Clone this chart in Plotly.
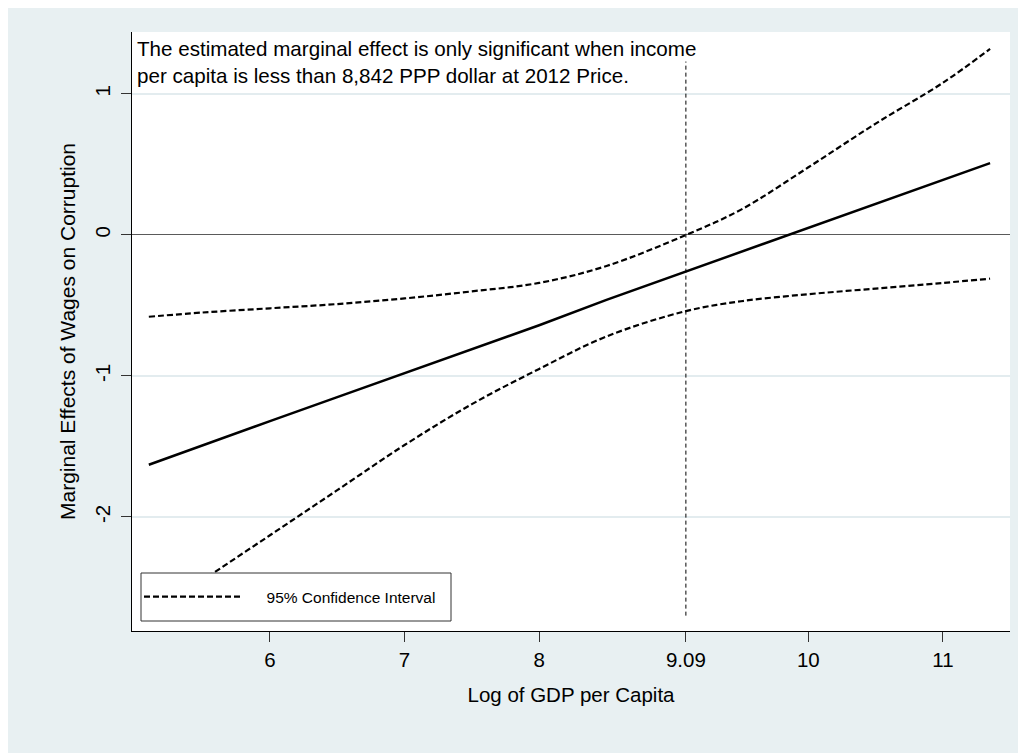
import plotly.graph_objects as go

# ---- data ----
log_gdp = [5.1, 5.5, 6.0, 6.5, 7.0, 7.5, 8.0, 8.5, 9.09, 9.5, 10.0, 10.5, 11.0, 11.35]
marginal_effect = [-1.63, -1.49, -1.32, -1.15, -0.98, -0.81, -0.64, -0.46, -0.26, -0.12, 0.05, 0.22, 0.39, 0.51]
ci_upper = [-0.58, -0.55, -0.52, -0.49, -0.45, -0.40, -0.34, -0.22, 0.00, 0.18, 0.48, 0.79, 1.08, 1.32]
ci_lower = [-2.72, -2.45, -2.13, -1.81, -1.49, -1.20, -0.95, -0.72, -0.54, -0.47, -0.42, -0.38, -0.34, -0.31]
x_ticks = [6, 7, 8, 9.09, 10, 11]
x_tick_labels = ["6", "7", "8", "9.09", "10", "11"]
y_ticks = [-2, -1, 0, 1]
y_tick_labels = ["-2", "-1", "0", "1"]
threshold = [9.09, 9.09]
threshold_span = [-2.70, 1.23]

FONT = "Liberation Sans, Arial, Helvetica, sans-serif"
BG = "#E8F0F2"
W, H = 1026, 753
OFF = 8  # page body margin
ML, MR, MT, MB = 124, 24, 24, 130
PW, PH = W - ML - MR, H - MT - MB


def px_x(p):
    return (p - OFF - ML) / PW


def px_y(p):
    return (H - MB - (p - OFF)) / PH


fig = go.Figure()

fig.add_trace(go.Scatter(
    x=threshold, y=threshold_span, mode="lines", showlegend=False,
    line=dict(color="black", width=1, dash="4px,3px"), hoverinfo="skip"))

fig.add_trace(go.Scatter(
    x=log_gdp, y=ci_upper, mode="lines", name="\u00a0\u00a0\u00a0\u00a0\u00a095% Confidence Interval",
    legendgroup="ci", line=dict(color="black", width=2.2, dash="6px,3px", shape="spline")))
fig.add_trace(go.Scatter(
    x=log_gdp, y=ci_lower, mode="lines", name="95% Confidence Interval",
    legendgroup="ci", showlegend=False,
    line=dict(color="black", width=2.2, dash="6px,3px", shape="spline")))
fig.add_trace(go.Scatter(
    x=log_gdp, y=marginal_effect, mode="lines", name="Marginal effect",
    showlegend=False, line=dict(color="black", width=2.5)))

shapes = [
    # legend box
    dict(type="rect", xref="paper", yref="paper", x0=px_x(141), x1=px_x(451), y0=px_y(621), y1=px_y(573),
         fillcolor="white", line=dict(color="#333333", width=1), layer="above"),
]

fig.update_layout(
    width=W, height=H,
    margin=dict(l=ML, r=MR, t=MT, b=MB, autoexpand=False),
    paper_bgcolor=BG, plot_bgcolor="white",
    font=dict(family=FONT, color="black", size=20.5),
    shapes=shapes,
    showlegend=True,
    legend=dict(x=px_x(139), y=px_y(597), xanchor="left", yanchor="middle",
                bgcolor="rgba(0,0,0,0)", borderwidth=0, itemwidth=96,
                font=dict(size=15.5, family=FONT)),
    annotations=[dict(
        text="The estimated marginal effect is only significant when income<br>per capita is less than 8,842 PPP dollar at 2012 Price.",
        xref="paper", yref="paper", x=px_x(135), y=px_y(35), xanchor="left", yanchor="top",
        align="left", showarrow=False, font=dict(size=20.6, family=FONT))],
)

fig.update_xaxes(
    range=[4.975, 11.498], tickvals=x_ticks, ticktext=x_tick_labels,
    showgrid=False, zeroline=False, showline=True, linecolor="black", linewidth=1,
    ticks="outside", ticklen=10, tickcolor="#333333", tickwidth=1,
    tickfont=dict(size=20.5), title=dict(text="Log of GDP per Capita", standoff=18, font=dict(size=20.5)))
fig.update_yaxes(
    range=[-2.809, 1.4397], tickvals=y_ticks, ticktext=y_tick_labels, tickangle=-90,
    showgrid=True, gridcolor="#E3ECEF", gridwidth=1.5,
    zeroline=True, zerolinecolor="#5a5a5a", zerolinewidth=1,
    showline=True, linecolor="black", linewidth=1,
    ticks="outside", ticklen=10, tickcolor="#333333", tickwidth=1, ticklabelstandoff=3,
    tickfont=dict(size=20.5),
    title=dict(text="Marginal Effects of Wages on Corruption", standoff=9, font=dict(size=21)))

fig.write_html("out.html")
